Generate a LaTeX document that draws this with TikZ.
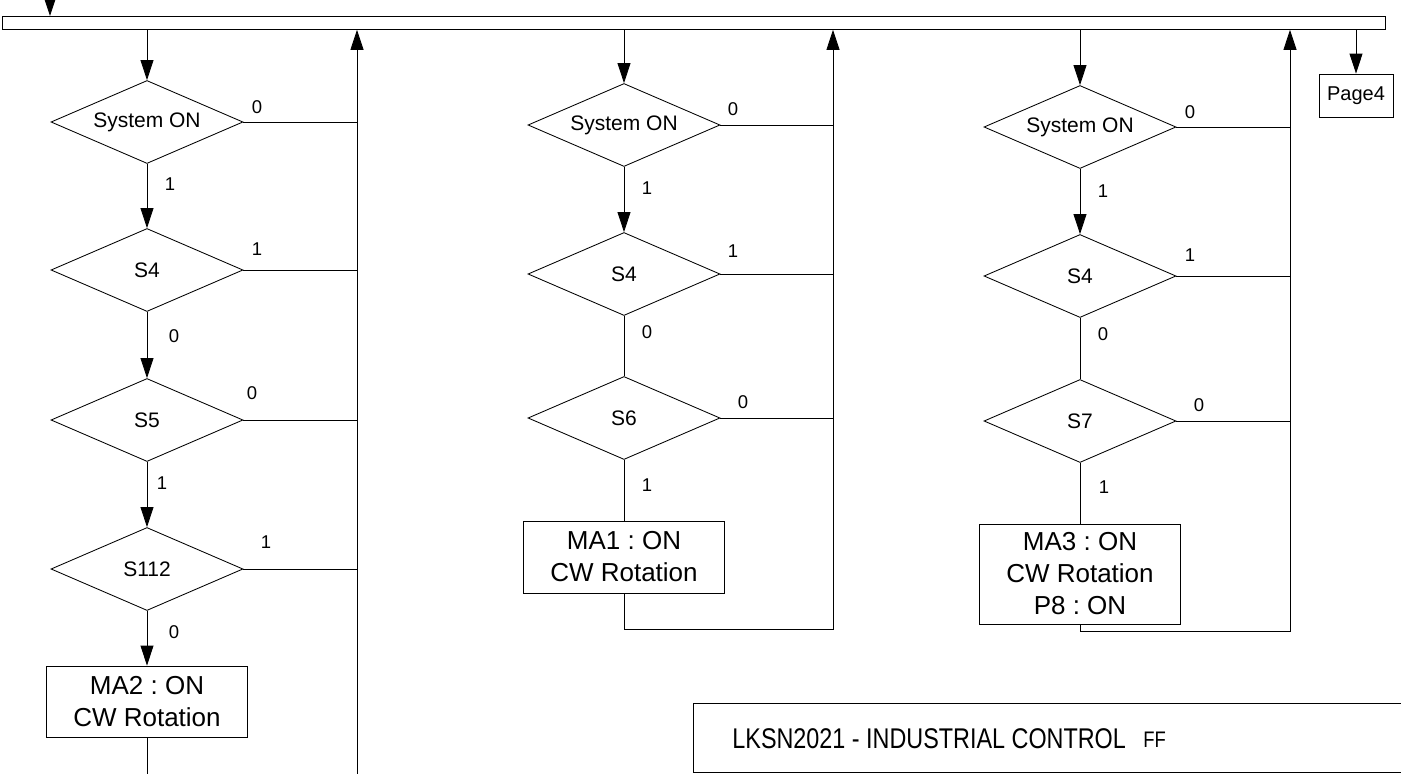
\documentclass[tikz,border=0pt]{standalone}
\usepackage{fontspec}
\setmainfont{Liberation Sans}
\newfontfamily\narrowfont[FakeStretch=0.82]{Liberation Sans}
\usetikzlibrary{shapes.geometric,arrows.meta}
\frenchspacing
\begin{document}
\begin{tikzpicture}[x=1pt,y=-1pt,
  every path/.style={line width=0.85pt},
  dec/.style={diamond, aspect=2.31, draw, minimum width=192, minimum height=83, inner sep=0, font=\fontsize{21}{24}\selectfont},
  act/.style={rectangle, draw, minimum width=201, align=center, inner sep=0, font=\fontsize{26}{32}\selectfont},
  lbl/.style={inner sep=0, font=\fontsize{18.5}{20}\selectfont},
  arr/.style={-{Triangle[length=20pt,width=13pt]}}]
\useasboundingbox (0,0) rectangle (1401,774);
% bar
\node[draw, minimum width=1383, minimum height=13, inner sep=0, anchor=north west] (bar) at (2,16) {};
\coordinate (in) at (50,-10);
\draw[arr] (in) -- (in |- bar.north);
% column 1
\node[dec] (a1) at (147,122) {System ON};
\node[dec] (a2) at (147,270) {S4};
\node[dec] (a3) at (147,420) {S5};
\node[dec] (a4) at (147,569) {S112};
\node[act, minimum height=71] (a5) at (147,701.5) {MA2 : ON\\CW Rotation};
\coordinate (ar) at (357,774);
\coordinate (ab) at (147,774);
\draw[arr] (bar.south -| a1) -- (a1.north);
\draw[arr] (a1.south) -- (a2.north);
\draw[arr] (a2.south) -- (a3.north);
\draw[arr] (a3.south) -- (a4.north);
\draw[arr] (a4.south) -- (a5.north);
\draw (a5.south) -- (ab);
\draw[arr] (ar) -- (ar |- bar.south);
\foreach \n in {a1,a2,a3,a4} \draw (\n.east) -- (\n.east -| ar);
\node[lbl] (la1) at (257,107) {0};
\node[lbl] (la2) at (170,184) {1};
\node[lbl] (la3) at (257,249) {1};
\node[lbl] (la4) at (174,336) {0};
\node[lbl] (la5) at (252,393) {0};
\node[lbl] (la6) at (162,483) {1};
\node[lbl] (la7) at (266,542) {1};
\node[lbl] (la8) at (174,632) {0};
% column 2
\node[dec] (b1) at (624,125) {System ON};
\node[dec] (b2) at (624,274) {S4};
\node[dec] (b3) at (624,418) {S6};
\node[act, minimum height=72] (b4) at (624,557) {MA1 : ON\\CW Rotation};
\coordinate (br) at (833,629);
\draw[arr] (bar.south -| b1) -- (b1.north);
\draw[arr] (b1.south) -- (b2.north);
\draw (b2.south) -- (b3.north);
\draw (b3.south) -- (b4.north);
\draw[arr] (b4.south) |- (br) -- (br |- bar.south);
\foreach \n in {b1,b2,b3} \draw (\n.east) -- (\n.east -| br);
\node[lbl] (lb1) at (733,109) {0};
\node[lbl] (lb2) at (647,188) {1};
\node[lbl] (lb3) at (733,251) {1};
\node[lbl] (lb4) at (647,332) {0};
\node[lbl] (lb5) at (743,402) {0};
\node[lbl] (lb6) at (647,485) {1};
% column 3
\node[dec] (c1) at (1080,127) {System ON};
\node[dec] (c2) at (1080,276) {S4};
\node[dec] (c3) at (1080,421) {S7};
\node[act, minimum height=100] (c4) at (1080,574) {MA3 : ON\\CW Rotation\\P8 : ON};
\coordinate (cr) at (1290,631);
\draw[arr] (bar.south -| c1) -- (c1.north);
\draw[arr] (c1.south) -- (c2.north);
\draw (c2.south) -- (c3.north);
\draw (c3.south) -- (c4.north);
\draw[arr] (c4.south) |- (cr) -- (cr |- bar.south);
\foreach \n in {c1,c2,c3} \draw (\n.east) -- (\n.east -| cr);
\node[lbl] (lc1) at (1190,112) {0};
\node[lbl] (lc2) at (1103,191) {1};
\node[lbl] (lc3) at (1190,255) {1};
\node[lbl] (lc4) at (1103,334) {0};
\node[lbl] (lc5) at (1199,405) {0};
\node[lbl] (lc6) at (1104,487) {1};
% page4
\node[draw, minimum width=74, minimum height=43, inner sep=0, font=\fontsize{20}{24}\selectfont] (pg) at (1356,95.5) {Page4};
\draw[arr] (bar.south -| pg) -- (pg.north);
% title block
\node[draw, anchor=north west, minimum width=730, minimum height=69, inner sep=0] (tb) at (693,703) {};
\node[anchor=base west, inner sep=0, font=\narrowfont\fontsize{28.5}{30}\selectfont] (tt) at (732,748) {LKSN2021 - INDUSTRIAL CONTROL};
\node[anchor=base west, inner sep=0, font=\narrowfont\fontsize{22.5}{24}\selectfont] (ff) at (1143,747) {FF};
\end{tikzpicture}
\end{document}
